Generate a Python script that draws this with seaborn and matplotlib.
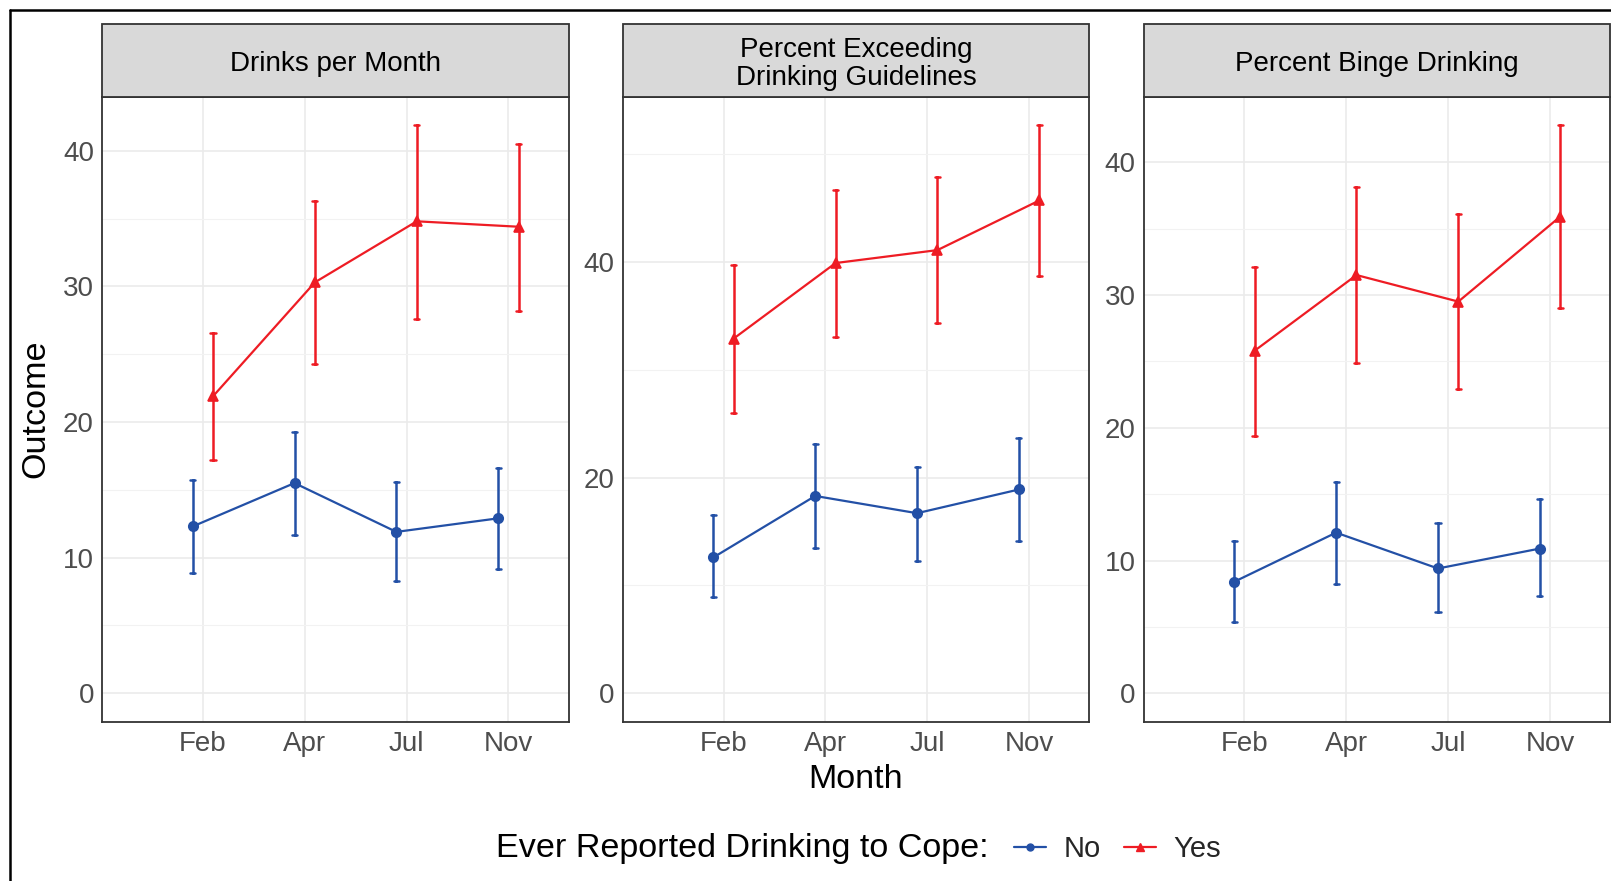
import numpy as np
import pandas as pd
import matplotlib
matplotlib.use("Agg")
import matplotlib.pyplot as plt
from matplotlib.lines import Line2D
from matplotlib.patches import Rectangle
from matplotlib.ticker import MultipleLocator
import seaborn as sns

# ---- data -------------------------------------------------------------
months = ["Feb", "Apr", "Jul", "Nov"]
groups = ["No", "Yes"]
panel_titles = ["Drinks per Month",
                "Percent Exceeding\nDrinking Guidelines",
                "Percent Binge Drinking"]
major_steps = [10, 20, 10]

drinks_no = [12.3, 15.5, 11.9, 12.9]
drinks_no_lo = [8.9, 11.7, 8.3, 9.2]
drinks_no_hi = [15.7, 19.3, 15.6, 16.6]
drinks_yes = [21.9, 30.3, 34.8, 34.4]
drinks_yes_lo = [17.2, 24.3, 27.6, 28.2]
drinks_yes_hi = [26.6, 36.3, 41.9, 40.5]

exceed_no = [12.6, 18.3, 16.7, 18.9]
exceed_no_lo = [8.9, 13.5, 12.3, 14.1]
exceed_no_hi = [16.5, 23.1, 21.0, 23.7]
exceed_yes = [32.9, 39.9, 41.1, 45.7]
exceed_yes_lo = [26.0, 33.0, 34.3, 38.7]
exceed_yes_hi = [39.7, 46.7, 47.9, 52.7]

binge_no = [8.4, 12.1, 9.4, 10.9]
binge_no_lo = [5.4, 8.2, 6.1, 7.3]
binge_no_hi = [11.5, 15.9, 12.8, 14.6]
binge_yes = [25.8, 31.5, 29.5, 35.9]
binge_yes_lo = [19.4, 24.9, 22.9, 29.0]
binge_yes_hi = [32.1, 38.1, 36.1, 42.8]

panel_series = [
    {"No": (drinks_no_lo, drinks_no, drinks_no_hi),
     "Yes": (drinks_yes_lo, drinks_yes, drinks_yes_hi)},
    {"No": (exceed_no_lo, exceed_no, exceed_no_hi),
     "Yes": (exceed_yes_lo, exceed_yes, exceed_yes_hi)},
    {"No": (binge_no_lo, binge_no, binge_no_hi),
     "Yes": (binge_yes_lo, binge_yes, binge_yes_hi)},
]

# long table: lower bound, estimate and upper bound for every point
rows = []
for p, series in enumerate(panel_series):
    for g in groups:
        lo, mid, hi = series[g]
        for i, m in enumerate(months):
            for v in (lo[i], mid[i], hi[i]):
                rows.append({"panel": p, "month": m, "group": g, "value": v})
df = pd.DataFrame(rows)

# ---- style ------------------------------------------------------------
sns.set_theme(style="white")
plt.rcParams["font.family"] = ["Liberation Sans", "DejaVu Sans"]

colors = {"No": "#2350A6", "Yes": "#EE1C24"}
dark = "#333333"
W, H = 1611, 881
fig = plt.figure(figsize=(W / 100, H / 100), dpi=100)

panel_lefts = [102, 622.7, 1143.6]
panel_w = 466.5
panel_top, panel_bottom = 96.6, 721.7
strip_h = 73.0
panel_h = panel_bottom - panel_top

for p in range(3):
    ax = fig.add_axes([panel_lefts[p] / W, (H - panel_bottom) / H,
                       panel_w / W, panel_h / H])
    sub = df[df["panel"] == p]
    sns.pointplot(data=sub, x="month", y="value", hue="group",
                  order=months, hue_order=groups, palette=colors,
                  markers=["o", "^"], linestyles=["-", "-"], dodge=0.2,
                  estimator="median",
                  errorbar=lambda v: (v.min(), v.max()),
                  capsize=0.05, err_kws={"linewidth": 1.8},
                  linewidth=1.6, markersize=6.8, legend=False, ax=ax)

    lo = min(0, sub["value"].min())
    hi = sub["value"].max()
    pad = 0.05 * (hi - lo)
    ax.set_ylim(lo - pad, hi + pad)
    ax.set_xlim(-0.99, 3.59)

    ax.yaxis.set_major_locator(MultipleLocator(major_steps[p]))
    ax.yaxis.set_minor_locator(MultipleLocator(major_steps[p] / 2))
    ax.set_axisbelow(True)
    ax.grid(True, which="major", axis="both", color="#EBEBEB", linewidth=1.2)
    ax.grid(True, which="minor", axis="y", color="#F2F2F2", linewidth=0.8)

    ax.set_xlabel("")
    ax.set_ylabel("")
    ax.tick_params(axis="both", which="major", length=3.3, width=1.0,
                   color=dark, labelcolor="#4D4D4D", labelsize=20, pad=2.5)
    ax.tick_params(axis="x", which="major", pad=3.5)
    ax.tick_params(axis="y", which="minor", length=0)
    for s in ax.spines.values():
        s.set_color(dark)
        s.set_linewidth(1.3)

    # facet strip
    sh = strip_h / panel_h
    ax.add_patch(Rectangle((0, 1), 1, sh, transform=ax.transAxes,
                           clip_on=False, facecolor="#D9D9D9",
                           edgecolor=dark, linewidth=1.3, zorder=5))
    ax.text(0.5, 1 + sh / 2 - 3.6 / panel_h, panel_titles[p],
            transform=ax.transAxes, ha="center", va="center", fontsize=20,
            color="black", linespacing=1.12, zorder=6)

# axis titles
fig.text(36 / W, 1 - 409 / H, "Outcome", rotation=90, ha="center",
         va="center", fontsize=24.6, color="black")
fig.text(856 / W, 1 - 779 / H, "Month", ha="center", va="center",
         fontsize=24.6, color="black")

# legend
fig.text(496 / W, 1 - 849 / H, "Ever Reported Drinking to Cope:",
         ha="left", va="center", fontsize=24.6, color="black")
handles = [Line2D([], [], color=colors["No"], marker="o", markersize=5,
                  linewidth=1.6),
           Line2D([], [], color=colors["Yes"], marker="^", markersize=6,
                  linewidth=1.6)]
fig.legend(handles, groups, loc="center left",
           bbox_to_anchor=(1014 / W, 1 - 849 / H), ncol=2, frameon=False,
           fontsize=21, handlelength=1.1, handletextpad=0.6,
           columnspacing=0.8, borderpad=0, borderaxespad=0)

# outer frame lines
fx, fy = 10.3 / W, 1 - 10.3 / H
fig.add_artist(Line2D([fx, fx], [0, fy], color="black", linewidth=1.8,
                      transform=fig.transFigure))
fig.add_artist(Line2D([fx, 1], [fy, fy], color="black", linewidth=1.8,
                      transform=fig.transFigure))

fig.savefig("out.png", dpi=100, facecolor="white")
